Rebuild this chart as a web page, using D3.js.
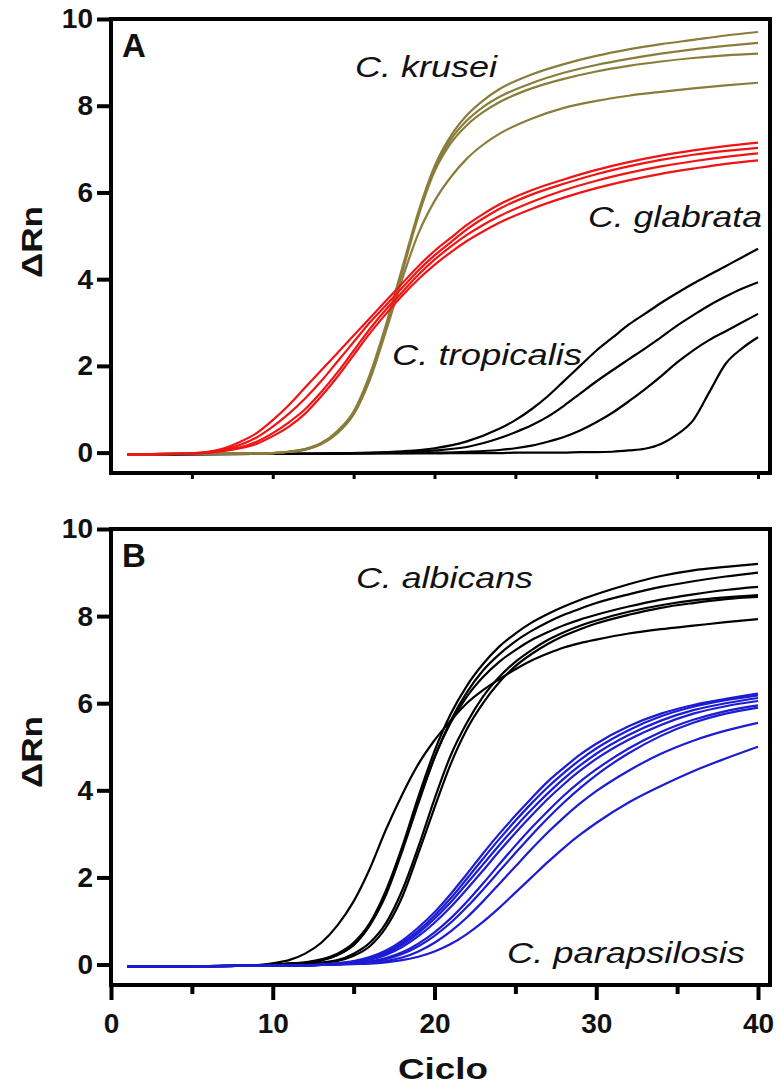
<!DOCTYPE html>
<html lang="en">
<head>
  <meta charset="UTF-8" />
  <title>qPCR curves</title>
  <style>
    body { margin: 0; background: #fff; }
    svg text { font-family: "Liberation Sans", Arial, sans-serif; fill: #111; }
  </style>
  <script src="https://d3js.org/d3.v7.min.js"></script>
</head>
<body>
  <script>
    // cycle grids (x values) for each group
    const cyclesA = [1, 4, 6, 7, 8, 9, 10, 11, 12, 13, 14, 15, 16, 17, 18, 19, 20, 21, 22, 23, 24, 26, 28, 30, 32, 34, 36, 38, 40];
    const cyclesTrop = [1, 10, 16, 18, 20, 22, 24, 25, 26, 27, 28, 29, 30, 31, 32, 33, 34, 35, 36, 37, 38, 39, 40];
    const cyclesB = [1, 4, 8, 10, 11, 12, 13, 14, 15, 16, 17, 18, 19, 20, 21, 22, 23, 24, 25, 26, 27, 28, 29, 30, 32, 34, 36, 38, 40];

    // panel A
    const krusei = [
      [-0.04, -0.03, -0.03, -0.03, -0.02, -0.02, -0.01, 0.02, 0.08, 0.22, 0.5, 0.95, 1.8, 2.95, 4.25, 5.55, 6.6, 7.3, 7.78, 8.12, 8.38, 8.72, 8.96, 9.15, 9.3, 9.42, 9.52, 9.62, 9.7],
      [-0.04, -0.03, -0.03, -0.03, -0.02, -0.02, -0.01, 0.02, 0.08, 0.21, 0.48, 0.92, 1.75, 2.9, 4.2, 5.5, 6.55, 7.22, 7.66, 7.97, 8.2, 8.52, 8.76, 8.94, 9.08, 9.2, 9.3, 9.38, 9.45],
      [-0.04, -0.03, -0.03, -0.03, -0.02, -0.02, -0.01, 0.02, 0.07, 0.2, 0.46, 0.9, 1.7, 2.85, 4.15, 5.45, 6.48, 7.13, 7.55, 7.85, 8.08, 8.4, 8.62, 8.79, 8.92, 9.02, 9.1, 9.16, 9.2],
      [-0.04, -0.03, -0.03, -0.03, -0.02, -0.02, -0.01, 0.02, 0.07, 0.2, 0.45, 0.88, 1.68, 2.8, 4.0, 5.05, 5.8, 6.35, 6.78, 7.1, 7.35, 7.7, 7.95, 8.11, 8.23, 8.32, 8.4, 8.47, 8.53]
    ];
    const glabrata = [
      [-0.04, -0.03, 0.02, 0.1, 0.25, 0.45, 0.75, 1.1, 1.5, 1.9, 2.3, 2.7, 3.1, 3.5, 3.9, 4.3, 4.65, 4.95, 5.25, 5.5, 5.72, 6.05, 6.3, 6.52, 6.7, 6.85, 6.97, 7.07, 7.15],
      [-0.04, -0.03, 0.01, 0.07, 0.18, 0.35, 0.6, 0.9, 1.25, 1.65, 2.1, 2.55, 3.0, 3.4, 3.8, 4.2, 4.55, 4.85, 5.15, 5.4, 5.62, 5.95, 6.2, 6.42, 6.6, 6.75, 6.87, 6.96, 7.03],
      [-0.04, -0.03, 0.0, 0.05, 0.12, 0.25, 0.45, 0.7, 1.0, 1.4, 1.85, 2.35, 2.85, 3.3, 3.7, 4.1, 4.45, 4.75, 5.02, 5.25, 5.45, 5.78, 6.05, 6.27, 6.45, 6.6, 6.72, 6.82, 6.9],
      [-0.04, -0.03, 0.0, 0.04, 0.1, 0.2, 0.38, 0.6, 0.9, 1.3, 1.75, 2.25, 2.75, 3.2, 3.62, 4.0, 4.33, 4.62, 4.88, 5.1, 5.3, 5.62, 5.88, 6.1, 6.28, 6.43, 6.55, 6.66, 6.74]
    ];
    const tropicalis = [
      [-0.04, -0.03, 0.0, 0.03, 0.1, 0.26, 0.55, 0.75, 1.0, 1.3, 1.65, 2.0, 2.35, 2.65, 2.95, 3.2, 3.45, 3.68, 3.9, 4.1, 4.3, 4.5, 4.7],
      [-0.04, -0.03, -0.01, 0.01, 0.05, 0.13, 0.33, 0.47, 0.63, 0.83, 1.08, 1.36, 1.64, 1.9, 2.15, 2.4, 2.66, 2.93, 3.17, 3.4, 3.6, 3.78, 3.93],
      [-0.04, -0.03, -0.02, -0.01, 0.0, 0.02, 0.06, 0.1, 0.16, 0.25, 0.36, 0.51, 0.7, 0.92, 1.18, 1.46, 1.76, 2.08, 2.36, 2.6, 2.8, 3.0, 3.2],
      [-0.04, -0.03, -0.02, -0.02, -0.02, -0.01, -0.01, 0.0, 0.0, 0.0, 0.0, 0.01, 0.01, 0.02, 0.05, 0.09, 0.2, 0.42, 0.75, 1.4, 2.05, 2.4, 2.66]
    ];

    // panel B
    const albicans = [
      [-0.04, -0.04, -0.03, 0.03, 0.1, 0.25, 0.5, 0.9, 1.45, 2.2, 3.1, 3.9, 4.6, 5.15, 5.6, 6.0, 6.3, 6.55, 6.78, 6.98, 7.14, 7.28, 7.38, 7.46, 7.6, 7.7, 7.78, 7.86, 7.93],
      [-0.04, -0.04, -0.03, 0.0, 0.02, 0.05, 0.12, 0.25, 0.5, 0.95, 1.7, 2.7, 3.85, 4.9, 5.75, 6.4, 6.9, 7.3, 7.6, 7.85, 8.05, 8.22, 8.37, 8.5, 8.73, 8.92, 9.05, 9.13, 9.2],
      [-0.04, -0.04, -0.03, 0.0, 0.02, 0.04, 0.1, 0.22, 0.45, 0.9, 1.6, 2.6, 3.7, 4.75, 5.6, 6.25, 6.75, 7.12, 7.42, 7.66, 7.86, 8.03, 8.17, 8.3, 8.5, 8.67, 8.8, 8.91, 9.0],
      [-0.04, -0.04, -0.03, 0.0, 0.02, 0.04, 0.1, 0.22, 0.45, 0.92, 1.65, 2.65, 3.75, 4.75, 5.55, 6.15, 6.6, 6.95, 7.22, 7.45, 7.63, 7.79, 7.92, 8.03, 8.22, 8.38, 8.5, 8.6, 8.67],
      [-0.04, -0.04, -0.03, -0.01, 0.0, 0.02, 0.05, 0.1, 0.25, 0.5, 0.95, 1.7, 2.7, 3.8, 4.8, 5.55, 6.15, 6.6, 6.95, 7.22, 7.45, 7.63, 7.78, 7.9, 8.1, 8.25, 8.36, 8.43, 8.48],
      [-0.04, -0.04, -0.03, -0.01, 0.0, 0.02, 0.04, 0.08, 0.2, 0.42, 0.85, 1.55, 2.55, 3.6, 4.6, 5.4, 6.0, 6.48, 6.85, 7.13, 7.36, 7.55, 7.7, 7.83, 8.03, 8.19, 8.3, 8.39, 8.44]
    ];
    const parapsilosis = [
      [-0.04, -0.04, -0.03, -0.03, -0.02, -0.02, 0.0, 0.03, 0.08, 0.17, 0.32, 0.55, 0.85, 1.2, 1.62, 2.08, 2.55, 3.0, 3.42, 3.82, 4.2, 4.52, 4.82, 5.07, 5.47, 5.76, 5.96, 6.1, 6.22],
      [-0.04, -0.04, -0.03, -0.03, -0.02, -0.02, 0.0, 0.02, 0.07, 0.15, 0.28, 0.5, 0.78, 1.12, 1.52, 1.97, 2.43, 2.88, 3.3, 3.7, 4.07, 4.4, 4.7, 4.96, 5.38, 5.7, 5.92, 6.07, 6.18],
      [-0.04, -0.04, -0.03, -0.03, -0.02, -0.02, 0.0, 0.02, 0.06, 0.13, 0.25, 0.45, 0.72, 1.05, 1.43, 1.86, 2.3, 2.74, 3.16, 3.56, 3.93, 4.27, 4.57, 4.84, 5.27, 5.6, 5.84, 6.0, 6.12],
      [-0.04, -0.04, -0.03, -0.03, -0.02, -0.02, 0.0, 0.02, 0.05, 0.11, 0.22, 0.4, 0.65, 0.96, 1.32, 1.73, 2.16, 2.6, 3.02, 3.42, 3.8, 4.14, 4.45, 4.72, 5.16, 5.5, 5.76, 5.93, 6.05],
      [-0.04, -0.04, -0.03, -0.03, -0.02, -0.02, -0.01, 0.01, 0.03, 0.07, 0.15, 0.28, 0.48, 0.74, 1.06, 1.44, 1.86, 2.3, 2.73, 3.14, 3.52, 3.88, 4.2, 4.48, 4.96, 5.34, 5.62, 5.82, 5.95],
      [-0.04, -0.04, -0.03, -0.03, -0.02, -0.02, -0.01, 0.01, 0.03, 0.06, 0.12, 0.24, 0.42, 0.66, 0.96, 1.32, 1.72, 2.14, 2.56, 2.97, 3.36, 3.72, 4.05, 4.35, 4.85, 5.25, 5.55, 5.76, 5.9],
      [-0.04, -0.04, -0.03, -0.03, -0.02, -0.02, -0.01, 0.0, 0.02, 0.04, 0.08, 0.16, 0.3, 0.5, 0.76, 1.08, 1.45, 1.85, 2.25, 2.65, 3.03, 3.38, 3.7, 3.98, 4.45, 4.84, 5.14, 5.37, 5.55],
      [-0.04, -0.04, -0.03, -0.03, -0.02, -0.02, -0.01, 0.0, 0.01, 0.02, 0.05, 0.1, 0.18, 0.3, 0.47, 0.7, 0.98, 1.3, 1.65, 2.0, 2.35, 2.68, 2.98, 3.25, 3.72, 4.1, 4.44, 4.73, 5.0]
    ];

    const yTicks = [0, 2, 4, 6, 8, 10];
    const xMajor = [0, 10, 20, 30, 40];
    const xMinor = [5, 15, 25, 35];

    const W = 779, H = 1088;
    const left = 111, right = 770;

    const svg = d3.select("body").append("svg")
      .attr("width", W)
      .attr("height", H);

    const x = d3.scaleLinear().domain([0, 40]).range([left, 758]);

    const line = (cyc, yS) => d3.line()
      .x((d, i) => x(cyc[i]))
      .y(d => yS(d))
      .curve(d3.curveMonotoneX);

    function panel(top, bottom, letter, groups, labels, lastAxis) {
      const y = d3.scaleLinear().domain([-0.47, 10]).range([bottom, top]);
      const g = svg.append("g");

      groups.forEach(gr => {
        g.append("g").selectAll("path")
          .data(gr.data)
          .enter()
          .append("path")
          .attr("d", line(gr.cycles, y))
          .attr("fill", "none")
          .attr("stroke", gr.color)
          .attr("stroke-width", 2.2)
          .attr("stroke-linejoin", "round");
      });

      // frame
      g.append("rect")
        .attr("x", left).attr("y", top)
        .attr("width", right - left).attr("height", bottom - top)
        .attr("fill", "none")
        .attr("stroke", "#000")
        .attr("stroke-width", 4);

      const yAxis = g.append("g")
        .attr("transform", "translate(" + left + ",0)")
        .call(d3.axisLeft(y).tickValues(yTicks).tickSize(14).tickSizeOuter(0).tickPadding(4));
      yAxis.select(".domain").remove();
      yAxis.selectAll("line").attr("stroke-width", 4);
      yAxis.selectAll("text")
        .attr("font-size", 28).attr("font-weight", "bold")
        .attr("font-family", "Liberation Sans, Arial, sans-serif").attr("fill", "#111");

      if (!lastAxis) {
        const xa = g.append("g")
          .attr("transform", "translate(0," + bottom + ")")
          .call(d3.axisBottom(x).tickValues([5, 10, 15, 20, 25, 30, 35, 40]).tickSize(6).tickFormat(""));
        xa.select(".domain").remove();
        xa.selectAll("line").attr("stroke-width", 3);
      } else {
        const xa = g.append("g")
          .attr("transform", "translate(0," + bottom + ")")
          .call(d3.axisBottom(x).tickValues(xMajor).tickSize(15).tickPadding(13));
        xa.select(".domain").remove();
        xa.selectAll("line").attr("stroke-width", 4);
        xa.selectAll("text")
          .attr("font-size", 28).attr("font-weight", "bold")
          .attr("font-family", "Liberation Sans, Arial, sans-serif").attr("fill", "#111");
        const xm = g.append("g")
          .attr("transform", "translate(0," + bottom + ")")
          .call(d3.axisBottom(x).tickValues(xMinor).tickSize(9).tickFormat(""));
        xm.select(".domain").remove();
        xm.selectAll("line").attr("stroke-width", 4);
      }

      g.append("text")
        .attr("x", 122).attr("y", top + 38)
        .attr("font-size", 33).attr("font-weight", "bold")
        .text(letter);

      g.append("text")
        .attr("transform", "translate(42," + (top + 223) + ") rotate(-90)")
        .attr("text-anchor", "middle")
        .attr("font-size", 30).attr("font-weight", "bold")
        .attr("textLength", 72).attr("lengthAdjust", "spacingAndGlyphs")
        .text("ΔRn");

      labels.forEach(l => {
        g.append("text")
          .attr("x", l.x).attr("y", l.y)
          .attr("font-size", 30).attr("font-style", "italic")
          .attr("textLength", l.w).attr("lengthAdjust", "spacingAndGlyphs")
          .text(l.text);
      });
      return y;
    }

    panel(19, 473, "A", [
      { cycles: cyclesTrop, data: tropicalis, color: "#000" },
      { cycles: cyclesA, data: krusei, color: "#8a7d3c" },
      { cycles: cyclesA, data: glabrata, color: "#f01414" }
    ], [
      { text: "C. krusei", x: 355, y: 77, w: 142 },
      { text: "C. glabrata", x: 588, y: 227, w: 174 },
      { text: "C. tropicalis", x: 392, y: 365, w: 190 }
    ], false);

    panel(529, 985, "B", [
      { cycles: cyclesB, data: albicans, color: "#000" },
      { cycles: cyclesB, data: parapsilosis, color: "#1c1cd4" }
    ], [
      { text: "C. albicans", x: 356, y: 588, w: 177 },
      { text: "C. parapsilosis", x: 507, y: 963, w: 238 }
    ], true);

    svg.append("text")
      .attr("x", 443).attr("y", 1079)
      .attr("text-anchor", "middle")
      .attr("font-size", 30).attr("font-weight", "bold")
      .attr("textLength", 90).attr("lengthAdjust", "spacingAndGlyphs")
      .text("Ciclo");
  </script>
</body>
</html>
